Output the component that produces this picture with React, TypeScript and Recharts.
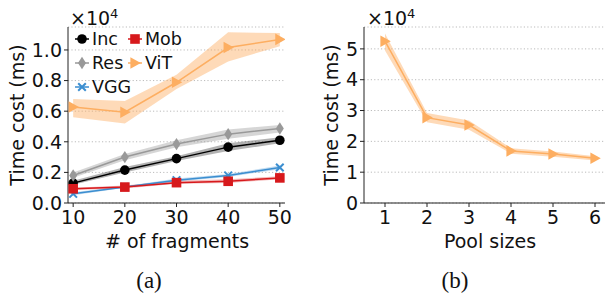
import React from "react";
import { ComposedChart, Area, Line, XAxis, YAxis, CartesianGrid } from "recharts";

// (a) time cost vs number of fragments, values in units of 1e4 ms
const fragments = [10, 20, 30, 40, 50];
const incMean = [0.13, 0.215, 0.29, 0.365, 0.41];
const incLow = [0.12, 0.2, 0.275, 0.34, 0.39];
const incHigh = [0.145, 0.235, 0.305, 0.39, 0.43];
const resMean = [0.18, 0.3, 0.385, 0.45, 0.487];
const resLow = [0.165, 0.28, 0.365, 0.42, 0.46];
const resHigh = [0.2, 0.32, 0.41, 0.48, 0.51];
const vggMean = [0.06, 0.104, 0.149, 0.18, 0.232];
const vggLow = [0.05, 0.1, 0.14, 0.17, 0.22];
const vggHigh = [0.07, 0.11, 0.16, 0.19, 0.245];
const mobMean = [0.093, 0.104, 0.133, 0.142, 0.164];
const mobLow = [0.085, 0.095, 0.125, 0.13, 0.155];
const mobHigh = [0.1, 0.115, 0.145, 0.155, 0.175];
const vitMean = [0.627, 0.593, 0.789, 1.016, 1.069];
const vitLow = [0.56, 0.52, 0.745, 0.925, 1.025];
const vitHigh = [0.68, 0.667, 0.838, 1.115, 1.11];
const fragTicks = [10, 20, 30, 40, 50];
const fragYTicks = [0, 0.2, 0.4, 0.6, 0.8, 1.0];

// (b) time cost vs pool size
const poolSizes = [1, 2, 3, 4, 5, 6];
const poolMean = [5.25, 2.77, 2.53, 1.69, 1.59, 1.45];
const poolLow = [4.95, 2.62, 2.38, 1.6, 1.5, 1.38];
const poolHigh = [5.5, 2.92, 2.68, 1.78, 1.67, 1.52];
const poolYTicks = [0, 1, 2, 3, 4, 5];

const FONT = "'DejaVu Sans', sans-serif";
const INK = "#111";
const SPINE = "#222";

const C = {
  inc: "#000000",
  res: "#999999",
  vgg: "#3b8ed0",
  mob: "#d7191c",
  vit: "#fdae61",
};

const fragData = fragments.map((f, i) => ({
  x: f,
  inc: incMean[i], incBand: [incLow[i], incHigh[i]],
  res: resMean[i], resBand: [resLow[i], resHigh[i]],
  vgg: vggMean[i], vggBand: [vggLow[i], vggHigh[i]],
  mob: mobMean[i], mobBand: [mobLow[i], mobHigh[i]],
  vit: vitMean[i], vitBand: [vitLow[i], vitHigh[i]],
}));

const poolData = poolSizes.map((p, i) => ({
  x: p,
  vit: poolMean[i],
  vitBand: [poolLow[i], poolHigh[i]],
}));

type Shape = "circle" | "square" | "diamond" | "tri" | "x";

function drawMarker(shape: Shape, x: number, y: number, color: string, key?: string | number) {
  switch (shape) {
    case "circle":
      return <circle key={key} cx={x} cy={y} r={4.8} fill={color} />;
    case "square":
      return <rect key={key} x={x - 4.8} y={y - 4.8} width={9.6} height={9.6} fill={color} />;
    case "diamond":
      return <polygon key={key} points={`${x},${y - 6.2} ${x + 4},${y} ${x},${y + 6.2} ${x - 4},${y}`} fill={color} />;
    case "tri":
      return <polygon key={key} points={`${x + 5.8},${y} ${x - 4.6},${y - 5.8} ${x - 4.6},${y + 5.8}`} fill={color} />;
    case "x":
      return (
        <g key={key} stroke={color} strokeWidth={2}>
          <line x1={x - 3.8} y1={y - 3.8} x2={x + 3.8} y2={y + 3.8} />
          <line x1={x - 3.8} y1={y + 3.8} x2={x + 3.8} y2={y - 3.8} />
        </g>
      );
  }
}

const dotOf = (shape: Shape, color: string) => (props: any) => {
  const { cx, cy, index } = props;
  if (cx == null || cy == null) return <g key={index} />;
  return drawMarker(shape, cx, cy, color, index);
};

const tickStyle = { fill: INK, fontSize: 19, fontFamily: FONT };

function Band({ k, color, opacity }: { k: string; color: string; opacity: number }) {
  return (
    <Area
      type="linear"
      dataKey={k}
      stroke="none"
      fill={color}
      fillOpacity={opacity}
      isAnimationActive={false}
      dot={false}
      activeDot={false}
    />
  );
}

function FragmentsChart() {
  return (
    <ComposedChart
      width={300}
      height={296}
      data={fragData}
      margin={{ top: 27, right: 15, bottom: 0, left: 0 }}
    >
      <CartesianGrid vertical={false} stroke="#bbb" strokeDasharray="1.2 2.2" strokeWidth={1} />
      <XAxis
        dataKey="x"
        type="number"
        domain={[9, 51]}
        ticks={fragTicks}
        height={93}
        tick={tickStyle}
        tickSize={4}
        tickMargin={4}
        stroke={SPINE}
        allowDataOverflow
      />
      <XAxis xAxisId="top" dataKey="x" type="number" domain={[9, 51]} orientation="top" height={0} tick={false} tickLine={false} stroke={SPINE} />
      <YAxis
        type="number"
        domain={[0, 1.15]}
        ticks={fragYTicks}
        width={68}
        tick={tickStyle}
        tickSize={4}
        tickMargin={2}
        tickFormatter={(v: number) => v.toFixed(1)}
        stroke={SPINE}
        allowDataOverflow
      />
      <YAxis yAxisId="right" orientation="right" width={0} domain={[0, 1.15]} tick={false} tickLine={false} stroke={SPINE} />
      <Band k="incBand" color="#000" opacity={0.3} />
      <Band k="resBand" color="#999" opacity={0.4} />
      <Band k="vggBand" color={C.vgg} opacity={0.3} />
      <Band k="mobBand" color={C.mob} opacity={0.3} />
      <Band k="vitBand" color={C.vit} opacity={0.45} />
      <Line type="linear" dataKey="inc" stroke={C.inc} strokeWidth={1.5} dot={dotOf("circle", C.inc)} activeDot={false} isAnimationActive={false} />
      <Line type="linear" dataKey="res" stroke={C.res} strokeWidth={1.5} dot={dotOf("diamond", C.res)} activeDot={false} isAnimationActive={false} />
      <Line type="linear" dataKey="vgg" stroke={C.vgg} strokeWidth={1.5} dot={dotOf("x", C.vgg)} activeDot={false} isAnimationActive={false} />
      <Line type="linear" dataKey="mob" stroke={C.mob} strokeWidth={1.5} dot={dotOf("square", C.mob)} activeDot={false} isAnimationActive={false} />
      <Line type="linear" dataKey="vit" stroke={C.vit} strokeWidth={1.5} dot={dotOf("tri", C.vit)} activeDot={false} isAnimationActive={false} />
    </ComposedChart>
  );
}

function PoolChart() {
  return (
    <ComposedChart
      width={316}
      height={296}
      data={poolData}
      margin={{ top: 27, right: 0, bottom: 0, left: 0 }}
    >
      <CartesianGrid vertical={false} stroke="#bbb" strokeDasharray="1.2 2.2" strokeWidth={1} />
      <XAxis
        dataKey="x"
        type="number"
        domain={[0.5, 6.5]}
        ticks={poolSizes}
        height={93}
        tick={tickStyle}
        tickSize={4}
        tickMargin={4}
        stroke={SPINE}
        allowDataOverflow
      />
      <XAxis xAxisId="top" dataKey="x" type="number" domain={[0.5, 6.5]} orientation="top" height={0} tick={false} tickLine={false} stroke={SPINE} />
      <YAxis
        type="number"
        domain={[0, 5.71]}
        ticks={poolYTicks}
        width={64}
        tick={tickStyle}
        tickSize={4}
        tickMargin={2}
        stroke={SPINE}
        allowDataOverflow
      />
      <Band k="vitBand" color={C.vit} opacity={0.45} />
      <Line type="linear" dataKey="vit" stroke={C.vit} strokeWidth={1.5} dot={dotOf("tri", C.vit)} activeDot={false} isAnimationActive={false} />
    </ComposedChart>
  );
}

const legendItems: { name: string; shape: Shape; color: string; col: number; row: number }[] = [
  { name: "Inc", shape: "circle", color: C.inc, col: 0, row: 0 },
  { name: "Res", shape: "diamond", color: C.res, col: 0, row: 1 },
  { name: "VGG", shape: "x", color: C.vgg, col: 0, row: 2 },
  { name: "Mob", shape: "square", color: C.mob, col: 1, row: 0 },
  { name: "ViT", shape: "tri", color: C.vit, col: 1, row: 1 },
];

function FragLegend() {
  return (
    <svg width={160} height={80} style={{ position: "absolute", left: 70, top: 28 }}>
      {legendItems.map((it) => {
        const cx = 12 + it.col * 53;
        const cy = 11 + it.row * 24;
        return (
          <g key={it.name}>
            <line x1={cx - 7} y1={cy} x2={cx + 7} y2={cy} stroke={it.color} strokeWidth={1.5} />
            {drawMarker(it.shape, cx, cy, it.color)}
            <text x={cx + 10} y={cy} dy="0.36em" fontSize={17.5} fontFamily={FONT} fill={INK}>
              {it.name}
            </text>
          </g>
        );
      })}
    </svg>
  );
}

const abs = (s: React.CSSProperties): React.CSSProperties => ({ position: "absolute", ...s });

function YTitle({ cx }: { cx: number }) {
  return (
    <div
      style={abs({
        left: cx - 100,
        top: 115 - 12,
        width: 200,
        height: 24,
        lineHeight: "24px",
        textAlign: "center",
        transform: "rotate(-90deg)",
        fontFamily: FONT,
        fontSize: 19,
        color: INK,
        whiteSpace: "nowrap",
      })}
    >
      Time cost (ms)
    </div>
  );
}

function Exponent({ left }: { left: number }) {
  return (
    <div style={abs({ left, top: 2, fontFamily: FONT, fontSize: 19, color: INK, whiteSpace: "nowrap", lineHeight: "24px" })}>
      ×10<sup style={{ fontSize: 13, verticalAlign: "7px" }}>4</sup>
    </div>
  );
}

function XTitle({ cx, text }: { cx: number; text: string }) {
  return (
    <div style={abs({ left: cx - 100, top: 229, width: 200, textAlign: "center", fontFamily: FONT, fontSize: 19, color: INK, lineHeight: "24px" })}>
      {text}
    </div>
  );
}

function Caption({ cx, text }: { cx: number; text: string }) {
  return (
    <div style={abs({ left: cx - 40, top: 268, width: 80, textAlign: "center", fontFamily: "'Liberation Serif', serif", fontSize: 23, color: INK, lineHeight: "26px" })}>
      {text}
    </div>
  );
}

export default function App() {
  return (
    <div style={abs({ left: 0, top: 0, width: 605, height: 296, overflow: "hidden", background: "#fff" })}>
      <div style={abs({ left: 0, top: 0 })}>
        <FragmentsChart />
      </div>
      <div style={abs({ left: 300, top: 0 })}>
        <PoolChart />
      </div>
      <FragLegend />
      <YTitle cx={17} />
      <YTitle cx={331} />
      <Exponent left={70} />
      <Exponent left={367} />
      <XTitle cx={177} text="# of fragments" />
      <XTitle cx={490} text="Pool sizes" />
      <Caption cx={149} text="(a)" />
      <Caption cx={455} text="(b)" />
    </div>
  );
}
